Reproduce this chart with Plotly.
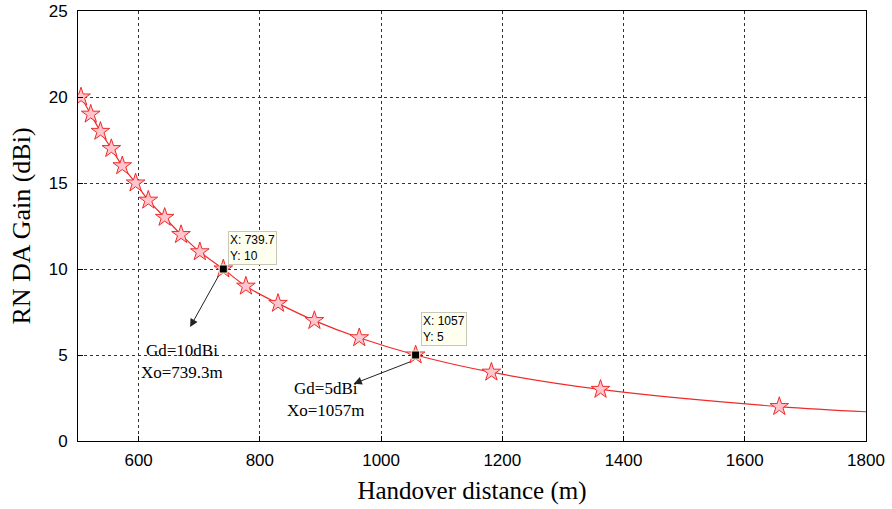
import plotly.graph_objects as go

# RN DA gain (dBi) versus the handover distance (m) at which it is reached
gain_dbi = [20, 19, 18, 17, 16, 15, 14, 13, 12, 11, 10, 9, 8, 7, 6, 5, 4, 3, 2]
distance_m = [505, 521, 537, 555, 573, 595, 616, 643, 670, 701, 739.7,
              777, 830, 890, 964, 1057, 1182, 1362, 1657]

# curve continues to the edge of the axis
curve_end_m = 1800
curve_end_dbi = 1.7

# marked points: (distance, gain) and the notes written next to them
tip_x = [739.7, 1057]
tip_y = [10, 5]
tip_labels = ["X: 739.7<br>Y: 10", "X: 1057<br>Y: 5"]
note_labels = ["Gd=10dBi<br>Xo=739.3m", "Gd=5dBi<br>Xo=1057m"]

x_ticks = [600, 800, 1000, 1200, 1400, 1600, 1800]
y_ticks = [0, 5, 10, 15, 20, 25]

RED = "#ee2b2b"
SERIF = "Liberation Serif, Times New Roman, serif"
SANS = "Liberation Sans, Arial, sans-serif"

fig = go.Figure()

fig.add_trace(go.Scatter(
    x=distance_m + [curve_end_m], y=gain_dbi + [curve_end_dbi],
    mode="lines", line=dict(color=RED, width=1.2, shape="spline", smoothing=1),
    hoverinfo="skip", showlegend=False,
))
fig.add_trace(go.Scatter(
    x=distance_m, y=gain_dbi, mode="markers",
    marker=dict(symbol="star", size=14, color="#ffc4cc",
                line=dict(color=RED, width=1)),
    showlegend=False,
))
fig.add_trace(go.Scatter(
    x=tip_x, y=tip_y, mode="markers",
    marker=dict(symbol="square", size=8, color="black",
                line=dict(color="#f3eec0", width=1)),
    showlegend=False,
))

# data tips
for tx, ty, lab, ys in zip(tip_x, tip_y, tip_labels, [4, 9]):
    fig.add_annotation(
        x=tx, y=ty, text=lab, showarrow=False, align="left",
        xanchor="left", yanchor="bottom", xshift=5, yshift=ys,
        font=dict(family=SANS, size=12, color="black"),
        bgcolor="#fffff0", bordercolor="#c8c8b8", borderwidth=1, borderpad=1,
    )

# arrows pointing from the marked points to their notes
arrows = [((685, 6.63), (733, 9.67)), ((955, 3.33), (1050, 4.63))]
for (hx, hy), (sx, sy) in arrows:
    fig.add_annotation(
        x=hx, y=hy, ax=sx, ay=sy, axref="x", ayref="y", xref="x", yref="y",
        text="", showarrow=True, arrowhead=2, arrowsize=1.6, arrowwidth=1,
        arrowcolor="#222222",
    )

for (nx, ny), lab in zip([(672, 4.6), (909, 2.4)], note_labels):
    fig.add_annotation(
        x=nx, y=ny, text=lab, showarrow=False, align="center",
        font=dict(family=SERIF, size=17, color="black"),
    )

axis_common = dict(
    showline=True, linecolor="black", linewidth=1, mirror=True,
    showgrid=True, gridcolor="#333333", gridwidth=1, griddash="dot",
    ticks="inside", ticklen=5, tickcolor="black",
    zeroline=False,
    tickfont=dict(family=SANS, size=17, color="black"),
)

fig.update_xaxes(
    range=[500, 1800], tickvals=x_ticks, ticklabelstandoff=4,
    title=dict(text="Handover distance (m)",
               font=dict(family=SERIF, size=25, color="black"), standoff=12),
    **axis_common,
)
fig.update_yaxes(
    range=[0, 25], tickvals=y_ticks, ticklabelstandoff=6,
    title=dict(text="RN DA Gain (dBi)",
               font=dict(family=SERIF, size=26, color="black"), standoff=10),
    **axis_common,
)

fig.update_layout(
    width=892, height=509,
    margin=dict(l=78, r=26, t=11, b=68, autoexpand=False),
    paper_bgcolor="white", plot_bgcolor="white",
    showlegend=False,
)

fig.write_html("out.html")
